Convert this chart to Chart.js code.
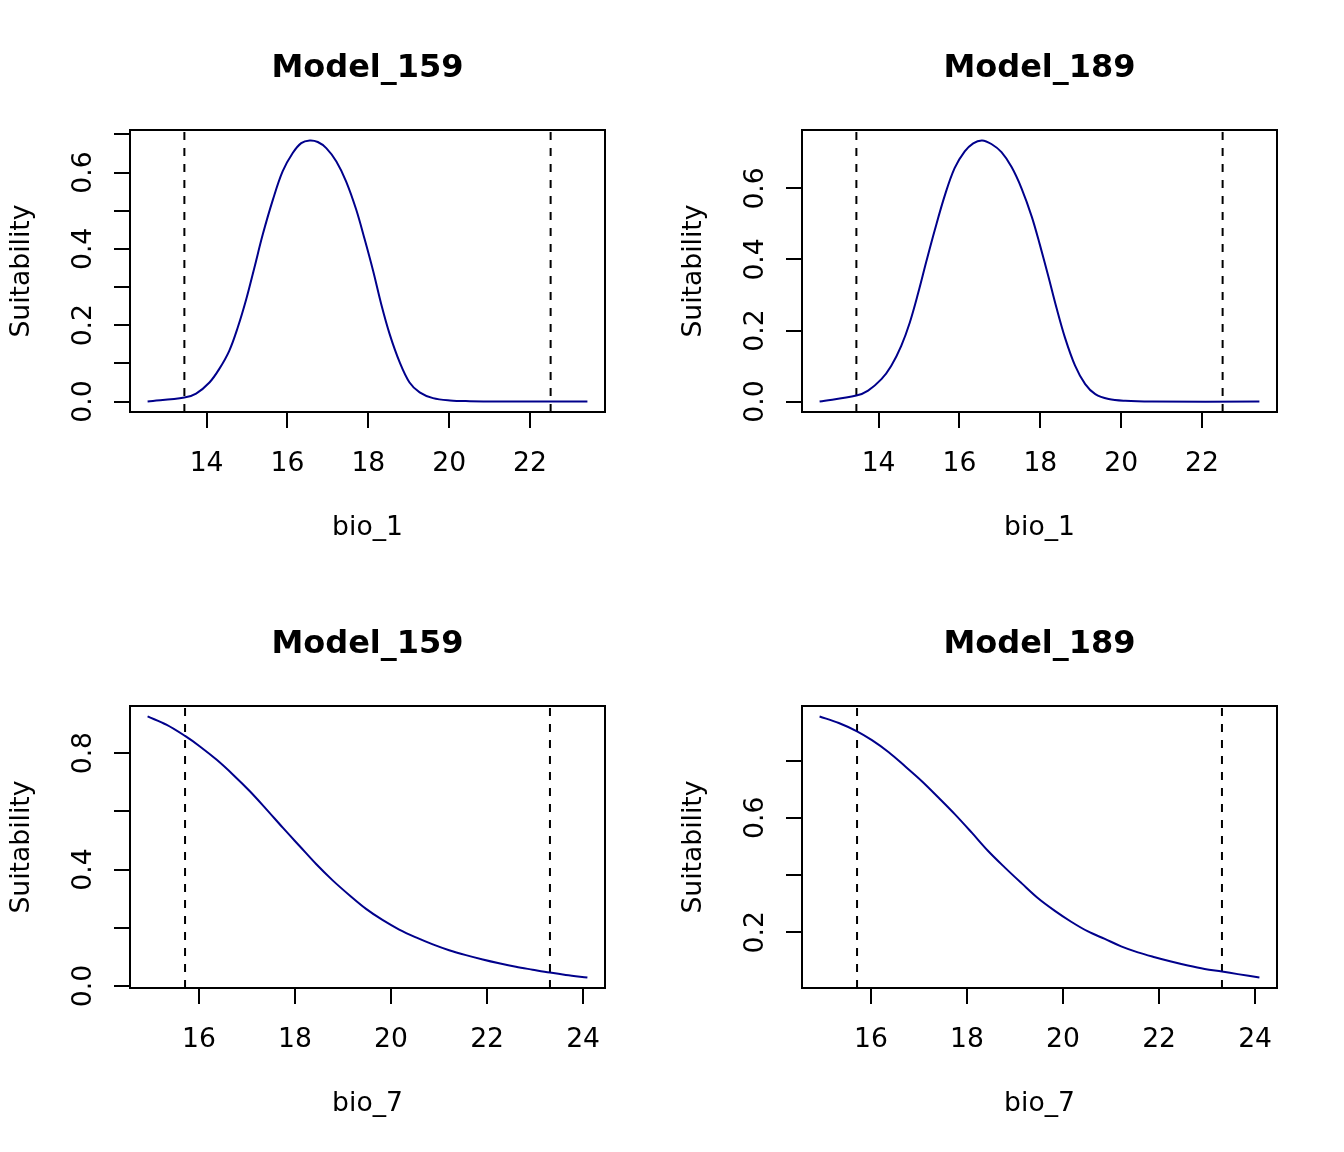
<!DOCTYPE html>
<html lang="en">
<head>
  <meta charset="UTF-8" />
  <title>Response curves</title>
  <script src="https://cdn.jsdelivr.net/npm/chart.js"></script>
  <style>
    body { margin: 0; background: #fff; }
    #grid {
      display: grid;
      grid-template-columns: 672px 672px;
      grid-template-rows: 576px 576px;
      width: 1344px;
      height: 1152px;
    }
    canvas { display: block; }
  </style>
</head>
<body>
  <div id="grid">
    <canvas id="m159bio1" width="672" height="576"></canvas>
    <canvas id="m189bio1" width="672" height="576"></canvas>
    <canvas id="m159bio7" width="672" height="576"></canvas>
    <canvas id="m189bio7" width="672" height="576"></canvas>
  </div>

  <script>
    // bio_1 response, Model_159
    const m159Bio1X = [12.54, 13.45, 13.74, 14.07, 14.31, 14.56, 14.77, 14.98, 15.18, 15.39, 15.64, 15.88, 16.13, 16.34, 16.55,
                       16.75, 16.96, 17.21, 17.45, 17.70, 17.91, 18.12, 18.32, 18.53, 18.78, 19.02, 19.27, 19.60, 20.02, 20.51, 21.17, 23.42];
    const m159Bio1Y = [0, 0.0105, 0.021, 0.050, 0.085, 0.133, 0.194, 0.268, 0.350, 0.438, 0.529, 0.603, 0.651, 0.677, 0.684,
                       0.680, 0.664, 0.629, 0.577, 0.503, 0.425, 0.342, 0.255, 0.176, 0.102, 0.050, 0.024, 0.009, 0.003, 0.001, 0, 0];

    // bio_1 response, Model_189
    const m189Bio1X = [12.54, 13.45, 13.74, 14.07, 14.31, 14.56, 14.77, 14.98, 15.18, 15.39, 15.64, 15.88, 16.13, 16.34, 16.56,
                       16.79, 17.04, 17.29, 17.54, 17.79, 17.99, 18.20, 18.40, 18.61, 18.86, 19.11, 19.36, 19.69, 20.10, 20.76, 23.42];
    const m189Bio1Y = [0, 0.017, 0.031, 0.063, 0.100, 0.157, 0.222, 0.306, 0.394, 0.483, 0.581, 0.657, 0.704, 0.727, 0.735,
                       0.725, 0.702, 0.660, 0.599, 0.520, 0.441, 0.352, 0.264, 0.180, 0.101, 0.049, 0.021, 0.007, 0.002, 0, 0];

    // bio_7 response, both models read at the same x positions
    const bio7X = [14.93, 15.33, 15.71, 16.02, 16.37, 16.71, 17.06, 17.41, 17.75, 18.10, 18.44, 18.79, 19.14, 19.48,
                   19.83, 20.17, 20.52, 20.87, 21.21, 21.56, 21.91, 22.25, 22.60, 22.95, 23.31, 23.64, 24.09];
    const m159Bio7Y = [0.926, 0.897, 0.859, 0.823, 0.777, 0.726, 0.669, 0.606, 0.543, 0.480, 0.419, 0.362, 0.311, 0.265,
                       0.226, 0.194, 0.167, 0.143, 0.123, 0.106, 0.091, 0.078, 0.066, 0.056, 0.046, 0.038, 0.029];
    const m189Bio7Y = [0.954, 0.931, 0.902, 0.871, 0.829, 0.780, 0.728, 0.670, 0.612, 0.548, 0.484, 0.426, 0.371, 0.319,
                       0.275, 0.237, 0.203, 0.177, 0.151, 0.130, 0.113, 0.098, 0.084, 0.072, 0.063, 0.054, 0.042];

    // dashed reference lines
    const bio1Limits = [13.45, 22.51];
    const bio7Limits = [15.71, 23.31];

    // ticks and tick labels
    const bio1Ticks = [14, 16, 18, 20, 22];
    const bio7Ticks = [16, 18, 20, 22, 24];
    const m159Bio1YTicks = [0, 0.1, 0.2, 0.3, 0.4, 0.5, 0.6, 0.7];
    const m159Bio1YLabels = [0, 0.2, 0.4, 0.6];
    const m189Bio1YTicks = [0, 0.2, 0.4, 0.6];
    const m189Bio1YLabels = [0, 0.2, 0.4, 0.6];
    const m159Bio7YTicks = [0, 0.2, 0.4, 0.6, 0.8];
    const m159Bio7YLabels = [0, 0.4, 0.8];
    const m189Bio7YTicks = [0.2, 0.4, 0.6, 0.8];
    const m189Bio7YLabels = [0.2, 0.6];

    const FONT = "'DejaVu Sans', sans-serif";
    Chart.defaults.font.family = FONT;
    Chart.defaults.color = "#000";

    // R style box round the plot region
    const plotBox = {
      id: "plotBox",
      afterDatasetsDraw(chart) {
        const a = chart.chartArea;
        const ctx = chart.ctx;
        ctx.save();
        ctx.strokeStyle = "#000";
        ctx.lineWidth = 2;
        ctx.strokeRect(a.left, a.top, a.right - a.left, a.bottom - a.top);
        ctx.restore();
      }
    };

    // axis range like R: data range plus 4% each side
    function rRange(vals) {
      const lo = Math.min(...vals), hi = Math.max(...vals), d = hi - lo;
      return [lo - 0.04 * d, hi + 0.04 * d];
    }

    function makePanel(id, title, xLabel, xs, ys, xTicks, yTicks, yLabels, limits) {
      const xr = rRange(xs);
      const yr = rRange(ys);
      const labelFont = { family: FONT, size: 26.6, lineHeight: 1.2 };

      const datasets = [{
        data: xs.map((x, i) => ({ x: x, y: ys[i] })),
        borderColor: "#00008B",
        borderWidth: 2,
        pointRadius: 0,
        tension: 0.35
      }];
      limits.forEach(v => {
        datasets.push({
          data: [{ x: v, y: yr[0] }, { x: v, y: yr[1] }],
          borderColor: "#000",
          borderWidth: 2,
          borderDash: [8, 8],
          pointRadius: 0
        });
      });

      const tickGrid = { drawOnChartArea: false, drawTicks: true, tickLength: 16, color: "#000", lineWidth: 2 };

      return new Chart(document.getElementById(id), {
        type: "line",
        data: { datasets: datasets },
        options: {
          responsive: false,
          animation: false,
          devicePixelRatio: 1,
          layout: { padding: { top: 0, left: 0, right: 67, bottom: 0 } },
          plugins: {
            legend: { display: false },
            tooltip: { enabled: false },
            title: {
              display: true,
              text: title,
              fullSize: false,
              color: "#000",
              font: { family: FONT, size: 32, weight: "bold", lineHeight: 1.2 },
              padding: { top: 49.5, bottom: 42.1 }
            }
          },
          scales: {
            x: {
              type: "linear",
              min: xr[0],
              max: xr[1],
              afterBuildTicks: s => { s.ticks = xTicks.map(v => ({ value: v })); },
              afterFit: s => { s.height = 164; },
              grid: tickGrid,
              border: { display: true, color: "#000", width: 2 },
              ticks: {
                color: "#000",
                font: labelFont,
                padding: 20,
                maxRotation: 0,
                autoSkip: false,
                callback: v => String(v)
              },
              title: {
                display: true,
                text: xLabel,
                color: "#000",
                font: labelFont,
                padding: { top: 0, bottom: 32 }
              }
            },
            y: {
              type: "linear",
              min: yr[0],
              max: yr[1],
              afterBuildTicks: s => { s.ticks = yTicks.map(v => ({ value: v })); },
              afterFit: s => { s.width = 130; },
              grid: tickGrid,
              border: { display: true, color: "#000", width: 2 },
              ticks: {
                color: "#000",
                font: labelFont,
                padding: 9,
                minRotation: 90,
                maxRotation: 90,
                crossAlign: "center",
                autoSkip: false,
                callback: v => (yLabels.includes(v) ? v.toFixed(1) : "")
              },
              title: {
                display: true,
                text: "Suitability",
                color: "#000",
                font: labelFont,
                padding: { top: 6, bottom: 0 }
              }
            }
          }
        },
        plugins: [plotBox]
      });
    }

    makePanel("m159bio1", "Model_159", "bio_1", m159Bio1X, m159Bio1Y, bio1Ticks, m159Bio1YTicks, m159Bio1YLabels, bio1Limits);
    makePanel("m189bio1", "Model_189", "bio_1", m189Bio1X, m189Bio1Y, bio1Ticks, m189Bio1YTicks, m189Bio1YLabels, bio1Limits);
    makePanel("m159bio7", "Model_159", "bio_7", bio7X, m159Bio7Y, bio7Ticks, m159Bio7YTicks, m159Bio7YLabels, bio7Limits);
    makePanel("m189bio7", "Model_189", "bio_7", bio7X, m189Bio7Y, bio7Ticks, m189Bio7YTicks, m189Bio7YLabels, bio7Limits);
  </script>
</body>
</html>
